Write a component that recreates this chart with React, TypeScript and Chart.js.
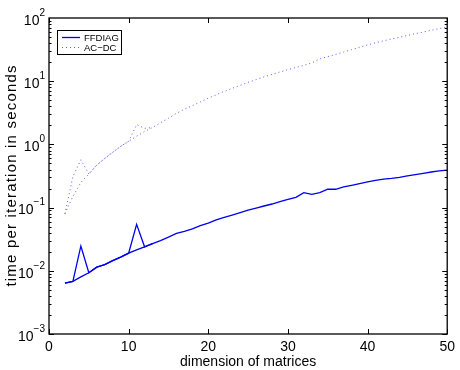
import { useEffect, useRef } from "react";
import { Chart, registerables } from "chart.js";

Chart.register(...registerables);

// ---- data ----
const dims = [2, 3, 4, 5, 6, 7, 8, 9, 10, 11, 12, 13, 14, 15, 16, 17, 18, 19, 20, 21, 22, 23, 24, 25, 26,
  27, 28, 29, 30, 31, 32, 33, 34, 35, 36, 37, 38, 39, 40, 41, 42, 43, 44, 45, 46, 47, 48, 49, 50];

const ffdiag = [0.0064, 0.0068, 0.008, 0.0093, 0.0114, 0.0125, 0.0145, 0.0165, 0.019, 0.0215, 0.024,
  0.027, 0.030, 0.034, 0.039, 0.042, 0.046, 0.052, 0.057, 0.064, 0.070, 0.076, 0.083, 0.091, 0.098,
  0.106, 0.114, 0.124, 0.135, 0.145, 0.172, 0.162, 0.172, 0.196, 0.195, 0.212, 0.225, 0.240, 0.255,
  0.270, 0.283, 0.290, 0.300, 0.318, 0.332, 0.348, 0.366, 0.380, 0.393];

// second FFDIAG run (only differs for small dimensions)
const ffdiagRunDims = [2, 3, 4, 5, 6, 7, 8, 9, 10, 11, 12, 13];
const ffdiagRun = [0.0064, 0.0068, 0.0247, 0.0093, 0.0114, 0.0125, 0.0145, 0.0165, 0.019, 0.0544, 0.024, 0.027];

const acdc = [0.08, 0.15, 0.25, 0.34, 0.47, 0.6, 0.75, 0.93, 1.12, 1.35, 1.6, 1.85, 2.2, 2.6, 3.1, 3.6,
  4.1, 4.7, 5.4, 6.1, 6.9, 7.7, 8.6, 9.6, 10.6, 11.7, 12.8, 14.0, 15.2, 16.5, 17.8, 19.5, 22.5, 24.5,
  26.5, 29, 31.5, 34.5, 37.5, 40.5, 43.5, 46.5, 49.5, 53, 56.5, 60, 64, 68, 72];

// second AC-DC run
const acdcRunDims = [2, 3, 4, 5, 6, 7, 8, 9, 10, 11, 12, 13];
const acdcRun = [0.08, 0.31, 0.57, 0.34, 0.47, 0.6, 0.75, 0.93, 1.12, 2.05, 1.8, 1.85];

const yDecades = [0.001, 0.01, 0.1, 1, 10, 100];
const yTickBase = "10";
const yTickExponents = ["\u22123", "\u22122", "\u22121", "0", "1", "2"];
const xTicks = [0, 10, 20, 30, 40, 50];

const seriesNames = ["FFDIAG", "AC\u2212DC"];
const xTitle = "dimension of matrices";
const yTitle = "time per iteration in seconds";

const FONT = "'Liberation Sans', Arial, Helvetica, sans-serif";

const toPoints = (xs: number[], ys: number[]) => xs.map((x, i) => ({ x, y: ys[i] }));

const framePlugin = {
  id: "frame",
  afterDraw(chart: any) {
    const { ctx, chartArea: a, scales } = chart;
    const ys = scales.y;
    const xs = scales.x;
    ctx.save();
    ctx.strokeStyle = "#000";
    ctx.lineWidth = 1;
    // minor/major ticks on y
    for (let e = -3; e < 2; e++) {
      for (let m = 1; m <= 9; m++) {
        const v = m * Math.pow(10, e);
        const py = Math.round(ys.getPixelForValue(v)) + 0.5;
        const len = m === 1 ? 5 : 2.5;
        ctx.beginPath();
        ctx.moveTo(a.left, py);
        ctx.lineTo(a.left + len, py);
        ctx.moveTo(a.right, py);
        ctx.lineTo(a.right - len, py);
        ctx.stroke();
      }
    }
    for (const t of xTicks) {
      const px = Math.round(xs.getPixelForValue(t)) + 0.5;
      ctx.beginPath();
      ctx.moveTo(px, a.bottom);
      ctx.lineTo(px, a.bottom - 5);
      ctx.moveTo(px, a.top);
      ctx.lineTo(px, a.top + 5);
      ctx.stroke();
    }
    ctx.lineWidth = 1.3;
    ctx.strokeRect(a.left, a.top, a.right - a.left, a.bottom - a.top);

    // y tick labels: 10 with superscript exponent
    ctx.fillStyle = "#000";
    ctx.textBaseline = "middle";
    ctx.textAlign = "right";
    const rightEdge = a.left - 4;
    yDecades.forEach((v, i) => {
      const py = ys.getPixelForValue(v);
      ctx.font = `10px ${FONT}`;
      const exp = yTickExponents[i];
      const ew = ctx.measureText(exp).width;
      ctx.fillText(exp, rightEdge, py - 5);
      ctx.font = `14px ${FONT}`;
      ctx.fillText(yTickBase, rightEdge - ew, py + 3);
    });

    // y axis title
    ctx.save();
    ctx.translate(12, (a.top + a.bottom) / 2);
    ctx.rotate(-Math.PI / 2);
    ctx.font = `15px ${FONT}`;
    (ctx as any).letterSpacing = "1.2px";
    ctx.textAlign = "center";
    ctx.textBaseline = "middle";
    ctx.fillText(yTitle, 0.6, 0);
    ctx.restore();

    // legend
    const lx = a.left + 8;
    const ly = a.top + 12;
    ctx.lineWidth = 1;
    ctx.fillStyle = "#fff";
    ctx.fillRect(lx, ly, 64, 24);
    ctx.strokeRect(lx + 0.5, ly + 0.5, 64, 24);
    const legendItems = chart.data.datasets.filter((d: any) => d.inLegend);
    legendItems.forEach((d: any, i: number) => {
      const cy = ly + 7 + i * 10;
      ctx.save();
      ctx.strokeStyle = d.borderColor;
      ctx.lineWidth = d.borderWidth;
      ctx.setLineDash(d.borderDash || []);
      ctx.beginPath();
      ctx.moveTo(lx + 5, cy + 0.5);
      ctx.lineTo(lx + 23, cy + 0.5);
      ctx.stroke();
      ctx.restore();
      ctx.fillStyle = "#000";
      ctx.font = `9.5px ${FONT}`;
      ctx.textBaseline = "middle";
      ctx.textAlign = "left";
      ctx.fillText(d.label, lx + 27, cy + 1);
    });
    ctx.restore();
  },
};

export default function App() {
  const canvasRef = useRef<HTMLCanvasElement | null>(null);

  useEffect(() => {
    const canvas = canvasRef.current;
    if (!canvas) return;
    const chart = new Chart(canvas, {
      type: "line",
      data: {
        datasets: [
          {
            label: seriesNames[0],
            inLegend: true,
            data: toPoints(dims, ffdiag),
            borderColor: "#0000ee",
            borderWidth: 1.3,
            pointRadius: 0,
            tension: 0,
          } as any,
          {
            label: seriesNames[0] + " run 2",
            data: toPoints(ffdiagRunDims, ffdiagRun),
            borderColor: "#0000ee",
            borderWidth: 1.3,
            pointRadius: 0,
            tension: 0,
          },
          {
            label: seriesNames[1],
            inLegend: true,
            data: toPoints(dims, acdc),
            borderColor: "#5a5af5",
            borderWidth: 1,
            borderDash: [1, 3],
            pointRadius: 0,
            tension: 0,
          } as any,
          {
            label: seriesNames[1] + " run 2",
            data: toPoints(acdcRunDims, acdcRun),
            borderColor: "#5a5af5",
            borderWidth: 1,
            borderDash: [1, 3],
            pointRadius: 0,
            tension: 0,
          },
        ],
      },
      options: {
        animation: false,
        responsive: false,
        maintainAspectRatio: false,
        events: [],
        layout: { padding: { top: 18, right: 9, left: 0, bottom: 0 } },
        plugins: {
          legend: { display: false },
          tooltip: { enabled: false },
        },
        scales: {
          x: {
            type: "linear",
            min: 0,
            max: 50,
            afterBuildTicks: (scale: any) => {
              scale.ticks = xTicks.map((v) => ({ value: v }));
            },
            afterFit: (scale: any) => {
              scale.height = 36;
            },
            grid: { display: false, drawTicks: false },
            border: { display: false },
            ticks: {
              padding: 5,
              color: "#000",
              font: { family: FONT, size: 14 },
              maxRotation: 0,
              autoSkip: false,
            },
            title: {
              display: true,
              text: xTitle,
              color: "#000",
              font: { family: FONT, size: 14 },
              padding: { top: 0, bottom: -1 },
            },
          },
          y: {
            type: "logarithmic",
            min: 0.001,
            max: 100,
            afterBuildTicks: (scale: any) => {
              scale.ticks = yDecades.map((v) => ({ value: v }));
            },
            afterFit: (scale: any) => {
              scale.width = 49;
            },
            grid: { display: false, drawTicks: false },
            border: { display: false },
            ticks: { display: false },
            title: { display: false },
          },
        },
      },
      plugins: [framePlugin],
    });
    return () => chart.destroy();
  }, []);

  return (
    <div style={{ position: "fixed", left: 0, top: 0, width: 460, height: 370, background: "#fff" }}>
      <canvas ref={canvasRef} width={460} height={370} style={{ width: 460, height: 370 }} />
    </div>
  );
}
